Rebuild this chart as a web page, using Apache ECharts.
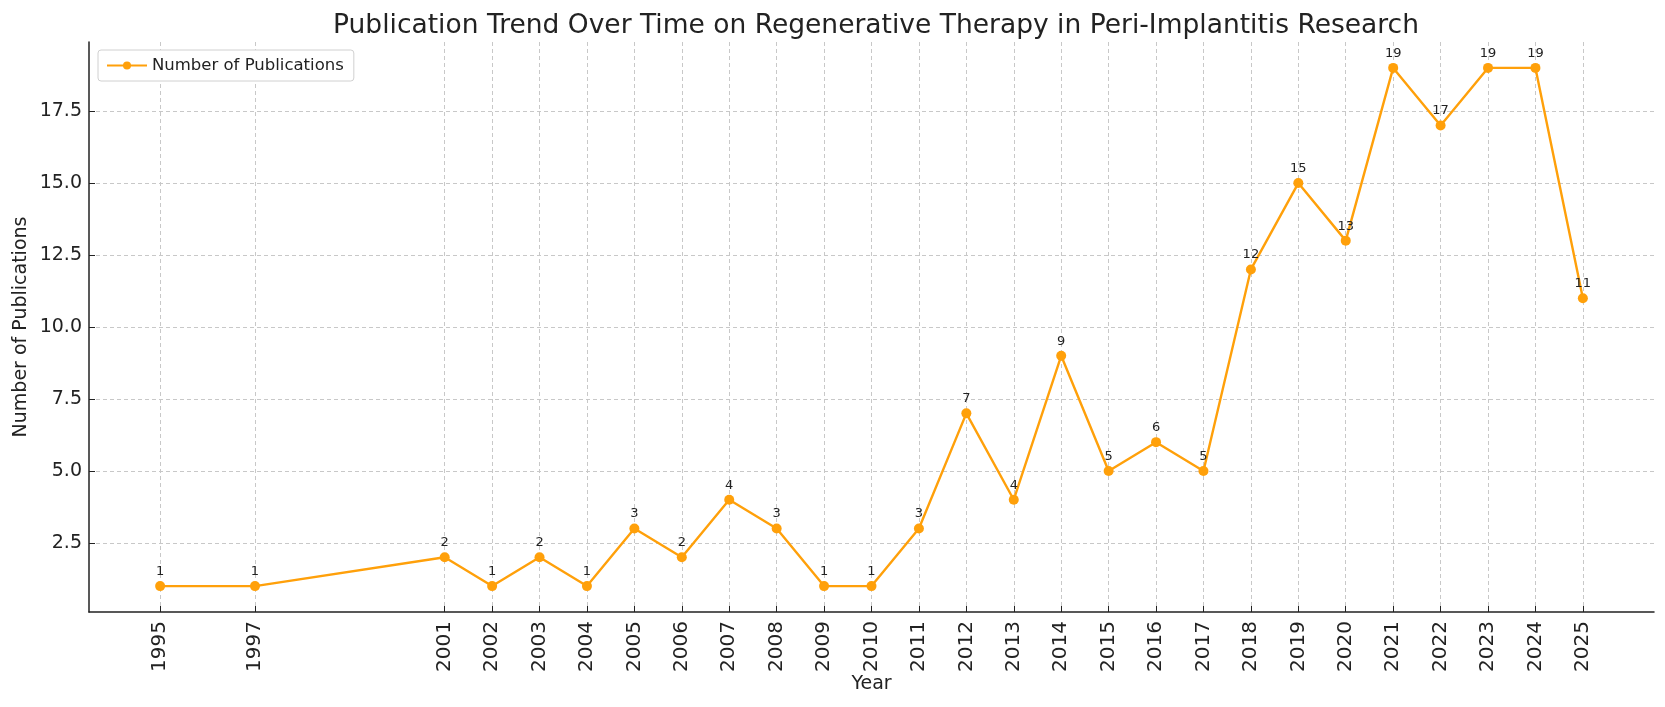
<!DOCTYPE html>
<html>
<head>
<meta charset="utf-8">
<script src="https://cdn.jsdelivr.net/npm/echarts@6/dist/echarts.min.js"></script>
<style>
  html, body { margin: 0; padding: 0; background: #fff; }
  #chart { width: 1665px; height: 707px; }
</style>
</head>
<body>
<div id="chart"></div>
<script>
const years = [1995, 1997, 2001, 2002, 2003, 2004, 2005, 2006, 2007, 2008, 2009, 2010, 2011, 2012,
  2013, 2014, 2015, 2016, 2017, 2018, 2019, 2020, 2021, 2022, 2023, 2024, 2025];
const publications = [1, 1, 2, 1, 2, 1, 3, 2, 4, 3, 1, 1, 3, 7, 4, 9, 5, 6, 5, 12, 15, 13, 19, 17, 19, 19, 11];
const yTicks = [2.5, 5, 7.5, 10, 12.5, 15, 17.5];

const font = 'DejaVu Sans';
const orange = '#ffa00a';

const myChart = echarts.init(document.getElementById('chart'));
const option = {
  animation: false,
  textStyle: { fontFamily: font },
  title: {
    text: 'Publication Trend Over Time on Regenerative Therapy in Peri-Implantitis Research',
    left: 871,
    top: 8,
    textAlign: 'center',
    textStyle: { fontFamily: font, fontSize: 26.5, fontWeight: 'normal', color: '#222' }
  },
  legend: {
    left: 98,
    top: 50,
    padding: [7, 10, 7, 8],
    borderColor: '#d0d0d0',
    borderWidth: 1,
    borderRadius: 3,
    backgroundColor: '#fff',
    itemWidth: 40,
    itemHeight: 10,
    itemGap: 10,
    textStyle: { fontFamily: font, fontSize: 16.5, color: '#222' },
    data: ['Number of Publications']
  },
  grid: { left: 89, right: 11, top: 42, bottom: 95 },
  xAxis: {
    type: 'value',
    min: 1993.5,
    max: 2026.5,
    name: 'Year',
    nameLocation: 'middle',
    nameGap: 63,
    nameMoveOverlap: false,
    nameTextStyle: { fontFamily: font, fontSize: 19, color: '#222' },
    axisLine: { show: true, lineStyle: { color: '#222', width: 1.5 } },
    axisTick: { show: true, inside: true, length: 6, customValues: years, lineStyle: { color: '#222' } },
    axisLabel: {
      customValues: years, rotate: 90, fontFamily: font, fontSize: 20, color: '#222', margin: 9,
      formatter: v => String(v)
    },
    splitLine: { show: true, lineStyle: { type: [4, 3], color: '#c8c8c8', width: 1 } }
  },
  yAxis: {
    type: 'value',
    min: 0.1,
    max: 19.9,
    name: 'Number of Publications',
    nameLocation: 'middle',
    nameGap: 58,
    nameMoveOverlap: false,
    nameTextStyle: { fontFamily: font, fontSize: 19, color: '#222' },
    axisLine: { show: true, lineStyle: { color: '#222', width: 1.5 } },
    axisTick: { show: true, inside: true, length: 6, customValues: yTicks, lineStyle: { color: '#222' } },
    axisLabel: {
      customValues: yTicks, fontFamily: font, fontSize: 19, color: '#222', margin: 7,
      formatter: v => v.toFixed(1)
    },
    splitLine: { show: true, lineStyle: { type: [4, 3], color: '#c8c8c8', width: 1 } }
  },
  series: [{
    name: 'Number of Publications',
    type: 'line',
    data: years.map((y, i) => [y, publications[i]]),
    symbol: 'circle',
    symbolSize: 10,
    color: orange,
    lineStyle: { width: 2.4, color: orange },
    itemStyle: { color: orange },
    label: {
      show: true, position: 'top', distance: 3, fontFamily: font, fontSize: 13, color: '#222',
      formatter: p => String(p.value[1])
    }
  }]
};
myChart.setOption(option);
</script>
</body>
</html>
